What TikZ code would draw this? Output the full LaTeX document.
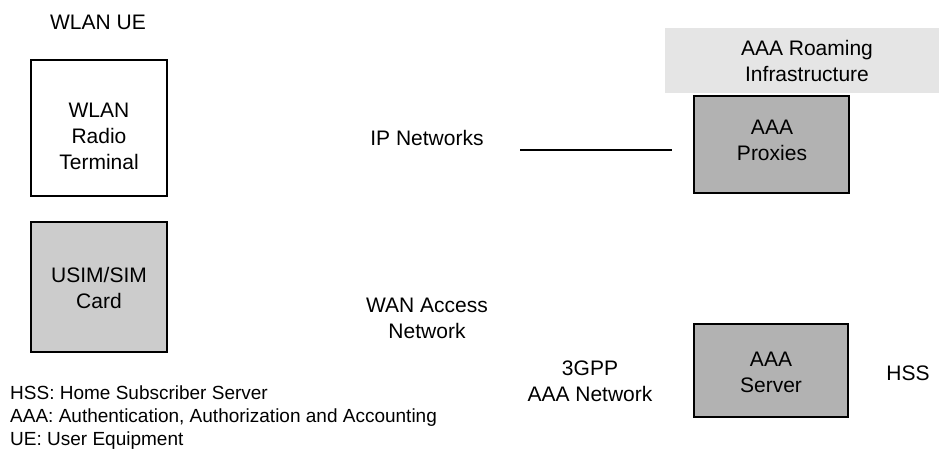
\documentclass[tikz,border=0pt]{standalone}
\usepackage{fontspec}
\setmainfont{Liberation Sans}
\definecolor{cardgray}{HTML}{CCCCCC}
\definecolor{aaagray}{HTML}{B2B2B2}
\definecolor{roamgray}{HTML}{E5E5E5}
\begin{document}
\begin{tikzpicture}[x=1bp,y=-1bp,
  lbl/.style={inner sep=0pt, align=center, font=\fontsize{21bp}{26bp}\selectfont},
  legend/.style={inner sep=0pt, align=left, anchor=west, font=\fontsize{19bp}{23bp}\selectfont},
  unitbox/.style={draw=black, line width=2bp, inner sep=0pt},
  conn/.style={draw=black, line width=1.8bp}]
\useasboundingbox (0,0) rectangle (939,456);

% UE side
\node[lbl] (ue) at (98,22) {WLAN UE};
\node[unitbox, fill=white, minimum width=136bp, minimum height=136bp] (wrt) at (99,128) {};
\node[lbl] (wrtlbl) at (99,136) {WLAN\\Radio\\Terminal};
\node[unitbox, fill=cardgray, minimum width=136bp, minimum height=130bp] (sim) at (99,287) {};
\node[lbl] (simlbl) at (99,288) {USIM/SIM\\Card};

% networks
\node[lbl] (ipnet) at (427,138) {IP Networks};
\node[lbl] (wan) at (427,318) {WAN Access\\Network};
\node[lbl] (gpp) at (590,381) {3GPP\\AAA Network};

% roaming infrastructure
\node[fill=roamgray, inner sep=0pt, minimum width=274bp, minimum height=65bp] (roam) at (802,60.5) {};
\node[lbl] (roamlbl) at (807,61) {AAA Roaming\\Infrastructure};

% AAA elements
\node[unitbox, fill=aaagray, minimum width=155bp, minimum height=97bp] (prox) at (771.5,144.5) {};
\node[lbl] (proxlbl) at (772,140) {AAA\\Proxies};
\node[unitbox, fill=aaagray, minimum width=154bp, minimum height=93bp] (srv) at (771,370.5) {};
\node[lbl] (srvlbl) at (771,372) {AAA\\Server};
\node[lbl] (hss) at (908,373) {HSS};

% IP link
\coordinate (lnA) at (520,150);
\coordinate (lnB) at (672,150);
\draw[conn] (lnA) -- (lnB);

% abbreviations
\node[legend] (abbr) at (10,418) {HSS: Home Subscriber Server\\AAA: Authentication, Authorization and Accounting\\UE: User Equipment};
\end{tikzpicture}
\end{document}
